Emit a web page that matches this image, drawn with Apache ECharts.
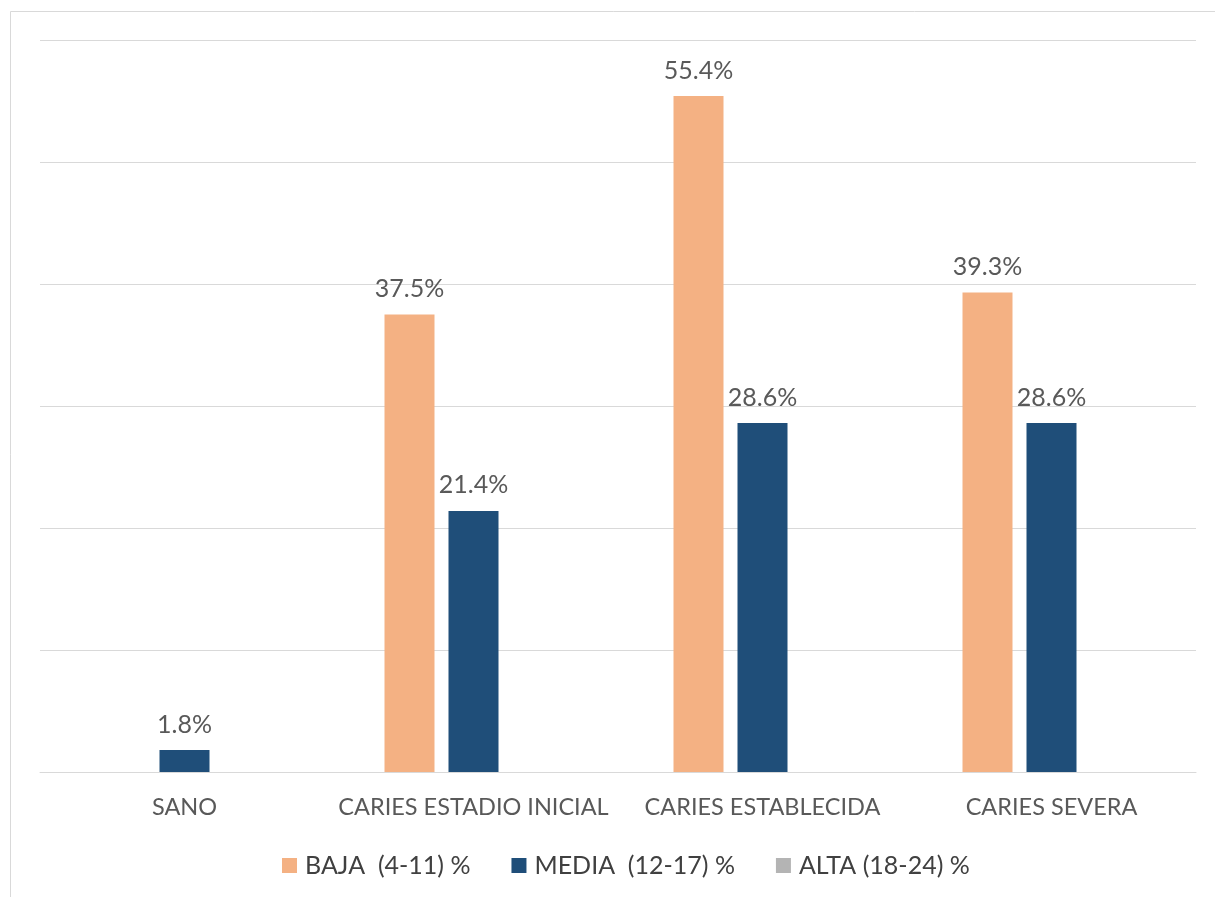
<!DOCTYPE html>
<html>
<head>
<meta charset="utf-8">
<script src="https://cdn.jsdelivr.net/npm/echarts@6/dist/echarts.min.js"></script>
<style>
  html, body { margin: 0; padding: 0; background: #ffffff; }
  #chart { width: 1215px; height: 897px; }
</style>
</head>
<body>
<div id="chart"></div>
<script>
// Caries stage by age group (percent)
const categories = ['SANO', 'CARIES ESTADIO INICIAL', 'CARIES ESTABLECIDA', 'CARIES SEVERA'];
const seriesNames = ['BAJA  (4-11) %', 'MEDIA  (12-17) %', 'ALTA (18-24) %'];
const bajaValues = [null, 37.5, 55.4, 39.3];
const mediaValues = [1.8, 21.4, 28.6, 28.6];
const altaValues = [null, null, null, null];
const seriesColors = ['#F4B183', '#1F4E79', '#B4B4B4'];

const FONT = 'Lato, "Liberation Sans", Arial, sans-serif';
const TEXT = '#595959';

const chart = echarts.init(document.getElementById('chart'), null, { renderer: 'canvas' });

function barSeries(name, data, color) {
  return {
    name: name,
    type: 'bar',
    data: data,
    barWidth: 50,
    barGap: '28%',
    itemStyle: { color: color },
    label: {
      show: true,
      position: 'top',
      distance: 13,
      color: TEXT,
      fontFamily: FONT,
      fontSize: 25,
      formatter: p => (p.value == null ? '' : p.value.toFixed(1) + '%')
    }
  };
}

chart.setOption({
  backgroundColor: '#ffffff',
  animation: false,
  graphic: [{
    type: 'rect',
    shape: { x: 10.5, y: 11.5, width: 1300, height: 1000 },
    style: { fill: 'none', stroke: '#d9d9d9', lineWidth: 1 },
    silent: true
  }],
  grid: { left: 40, right: 19, top: 40, bottom: 125, containLabel: false },
  legend: {
    bottom: 14,
    left: 277,
    itemWidth: 15,
    itemHeight: 15,
    itemGap: 41,
    icon: 'rect',
    textStyle: { color: '#404040', fontFamily: FONT, fontSize: 25, padding: [0, 0, 0, 3] },
    data: seriesNames
  },
  xAxis: {
    type: 'category',
    data: categories,
    axisLine: { show: true, lineStyle: { color: '#d9d9d9', width: 1 } },
    axisTick: { show: false },
    axisLabel: { color: TEXT, fontFamily: FONT, fontSize: 23.5, margin: 23, interval: 0 }
  },
  yAxis: {
    type: 'value',
    min: 0,
    max: 60,
    interval: 10,
    axisLine: { show: false },
    axisTick: { show: false },
    axisLabel: { show: false },
    splitLine: { lineStyle: { color: '#d9d9d9', width: 1 } }
  },
  series: [
    barSeries(seriesNames[0], bajaValues, seriesColors[0]),
    barSeries(seriesNames[1], mediaValues, seriesColors[1]),
    barSeries(seriesNames[2], altaValues, seriesColors[2])
  ]
});
</script>
</body>
</html>
